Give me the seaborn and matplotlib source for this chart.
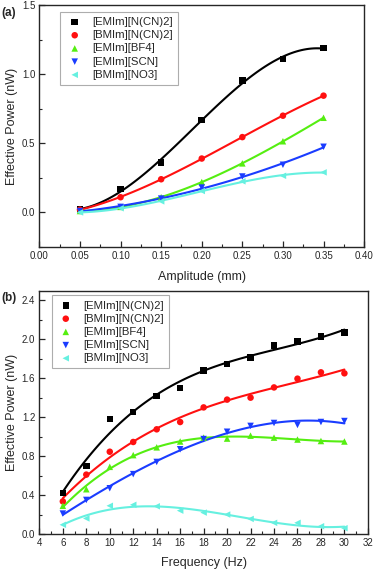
import numpy as np
import pandas as pd
import matplotlib
matplotlib.use('Agg')
import matplotlib.pyplot as plt
import seaborn as sns
from matplotlib.ticker import MultipleLocator

# Panel (a): effective power vs amplitude
amplitude = [0.05, 0.10, 0.15, 0.20, 0.25, 0.30, 0.35]
amp_emim_ncn2 = [0.02, 0.17, 0.36, 0.67, 0.955, 1.11, 1.19]
amp_bmim_ncn2 = [0.02, 0.11, 0.24, 0.39, 0.545, 0.70, 0.845]
amp_emim_bf4 = [0.01, 0.04, 0.11, 0.22, 0.355, 0.515, 0.685]
amp_emim_scn = [0.01, 0.04, 0.10, 0.18, 0.26, 0.345, 0.475]
amp_bmim_no3 = [0.00, 0.03, 0.08, 0.155, 0.225, 0.265, 0.29]

# Panel (b): effective power vs frequency
frequency = [6, 8, 10, 12, 14, 16, 18, 20, 22, 24, 26, 28, 30]
freq_emim_ncn2 = [0.42, 0.70, 1.18, 1.255, 1.415, 1.50, 1.68, 1.745, 1.81, 1.935, 1.975, 2.03, 2.07]
freq_bmim_ncn2 = [0.335, 0.61, 0.845, 0.945, 1.075, 1.15, 1.30, 1.38, 1.40, 1.505, 1.595, 1.66, 1.65]
freq_emim_bf4 = [0.29, 0.46, 0.69, 0.81, 0.89, 0.95, 0.99, 0.98, 1.01, 0.99, 0.97, 0.955, 0.95]
freq_emim_scn = [0.21, 0.35, 0.47, 0.615, 0.74, 0.87, 0.975, 1.05, 1.11, 1.14, 1.12, 1.15, 1.16]
freq_bmim_no3 = [0.095, 0.16, 0.29, 0.30, 0.285, 0.24, 0.22, 0.20, 0.155, 0.115, 0.115, 0.08, 0.06]

labels = ['[EMIm][N(CN)2]', '[BMIm][N(CN)2]', '[EMIm][BF4]', '[EMIm][SCN]', '[BMIm][NO3]']
colors = ['#000000', '#ff1010', '#55ee11', '#1a3cff', '#66f0e0']
markers = ['s', 'o', '^', 'v', '<']

sns.set_style('ticks')
plt.rcParams['font.family'] = ['Liberation Sans', 'DejaVu Sans']
plt.rcParams.update({
    'xtick.direction': 'in', 'ytick.direction': 'in',
    'xtick.labelsize': 7, 'ytick.labelsize': 7,
    'axes.labelsize': 9, 'axes.linewidth': 1.0,
})

fig = plt.figure(figsize=(3.75, 5.73), dpi=100)
ax_a = fig.add_axes([0.105, 0.569, 0.866, 0.422])
ax_b = fig.add_axes([0.105, 0.068, 0.876, 0.425])


def draw_panel(ax, x, series, anchor):
    for ys, lab, col, mk in zip(series, labels, colors, markers):
        df = pd.DataFrame({'x': x, 'y': ys})
        sns.regplot(data=df, x='x', y='y', order=3, ci=None, scatter=False,
                    ax=ax, color=col, line_kws={'lw': 1.5}, truncate=True)
        sns.scatterplot(data=df, x='x', y='y', ax=ax, color=col, marker=mk,
                        s=22, edgecolor='none', label=lab, zorder=3)
    leg = ax.legend(loc='upper left', bbox_to_anchor=anchor, borderaxespad=0,
                    fontsize=8.2, frameon=True, fancybox=False,
                    edgecolor='#999999', borderpad=0.45, labelspacing=0.28,
                    handlelength=1.6, handletextpad=0.7)
    leg.get_frame().set_linewidth(0.8)
    ax.tick_params(which='both', top=False, right=False)
    ax.tick_params(which='major', length=4, width=0.9, pad=3)
    ax.tick_params(which='minor', length=2, width=0.8)
    ax.set_ylabel('Effective Power (nW)', labelpad=3)


draw_panel(ax_a, amplitude,
           [amp_emim_ncn2, amp_bmim_ncn2, amp_emim_bf4, amp_emim_scn, amp_bmim_no3],
           (0.065, 0.972))
ax_a.set_xlim(0, 0.40)
ax_a.set_ylim(-0.25, 1.5)
ax_a.xaxis.set_major_locator(MultipleLocator(0.05))
ax_a.xaxis.set_minor_locator(MultipleLocator(0.025))
ax_a.yaxis.set_major_locator(MultipleLocator(0.5))
ax_a.yaxis.set_minor_locator(MultipleLocator(0.25))
ax_a.xaxis.set_major_formatter(plt.FormatStrFormatter('%.2f'))
ax_a.yaxis.set_major_formatter(plt.FormatStrFormatter('%.1f'))
ax_a.set_xlabel('Amplitude (mm)', labelpad=7)

draw_panel(ax_b, frequency,
           [freq_emim_ncn2, freq_bmim_ncn2, freq_emim_bf4, freq_emim_scn, freq_bmim_no3],
           (0.037, 0.98))
ax_b.set_xlim(4, 32)
ax_b.set_ylim(0, 2.5)
ax_b.xaxis.set_major_locator(MultipleLocator(2))
ax_b.xaxis.set_minor_locator(MultipleLocator(1))
ax_b.yaxis.set_major_locator(MultipleLocator(0.4))
ax_b.yaxis.set_minor_locator(MultipleLocator(0.2))
ax_b.yaxis.set_major_formatter(plt.FormatStrFormatter('%.1f'))
ax_b.set_xlabel('Frequency (Hz)', labelpad=6)

fig.text(0.003, 0.972, '(a)', fontsize=8.5, fontweight='bold')
fig.text(0.003, 0.475, '(b)', fontsize=8.5, fontweight='bold')

fig.savefig('out.png', dpi=100)
